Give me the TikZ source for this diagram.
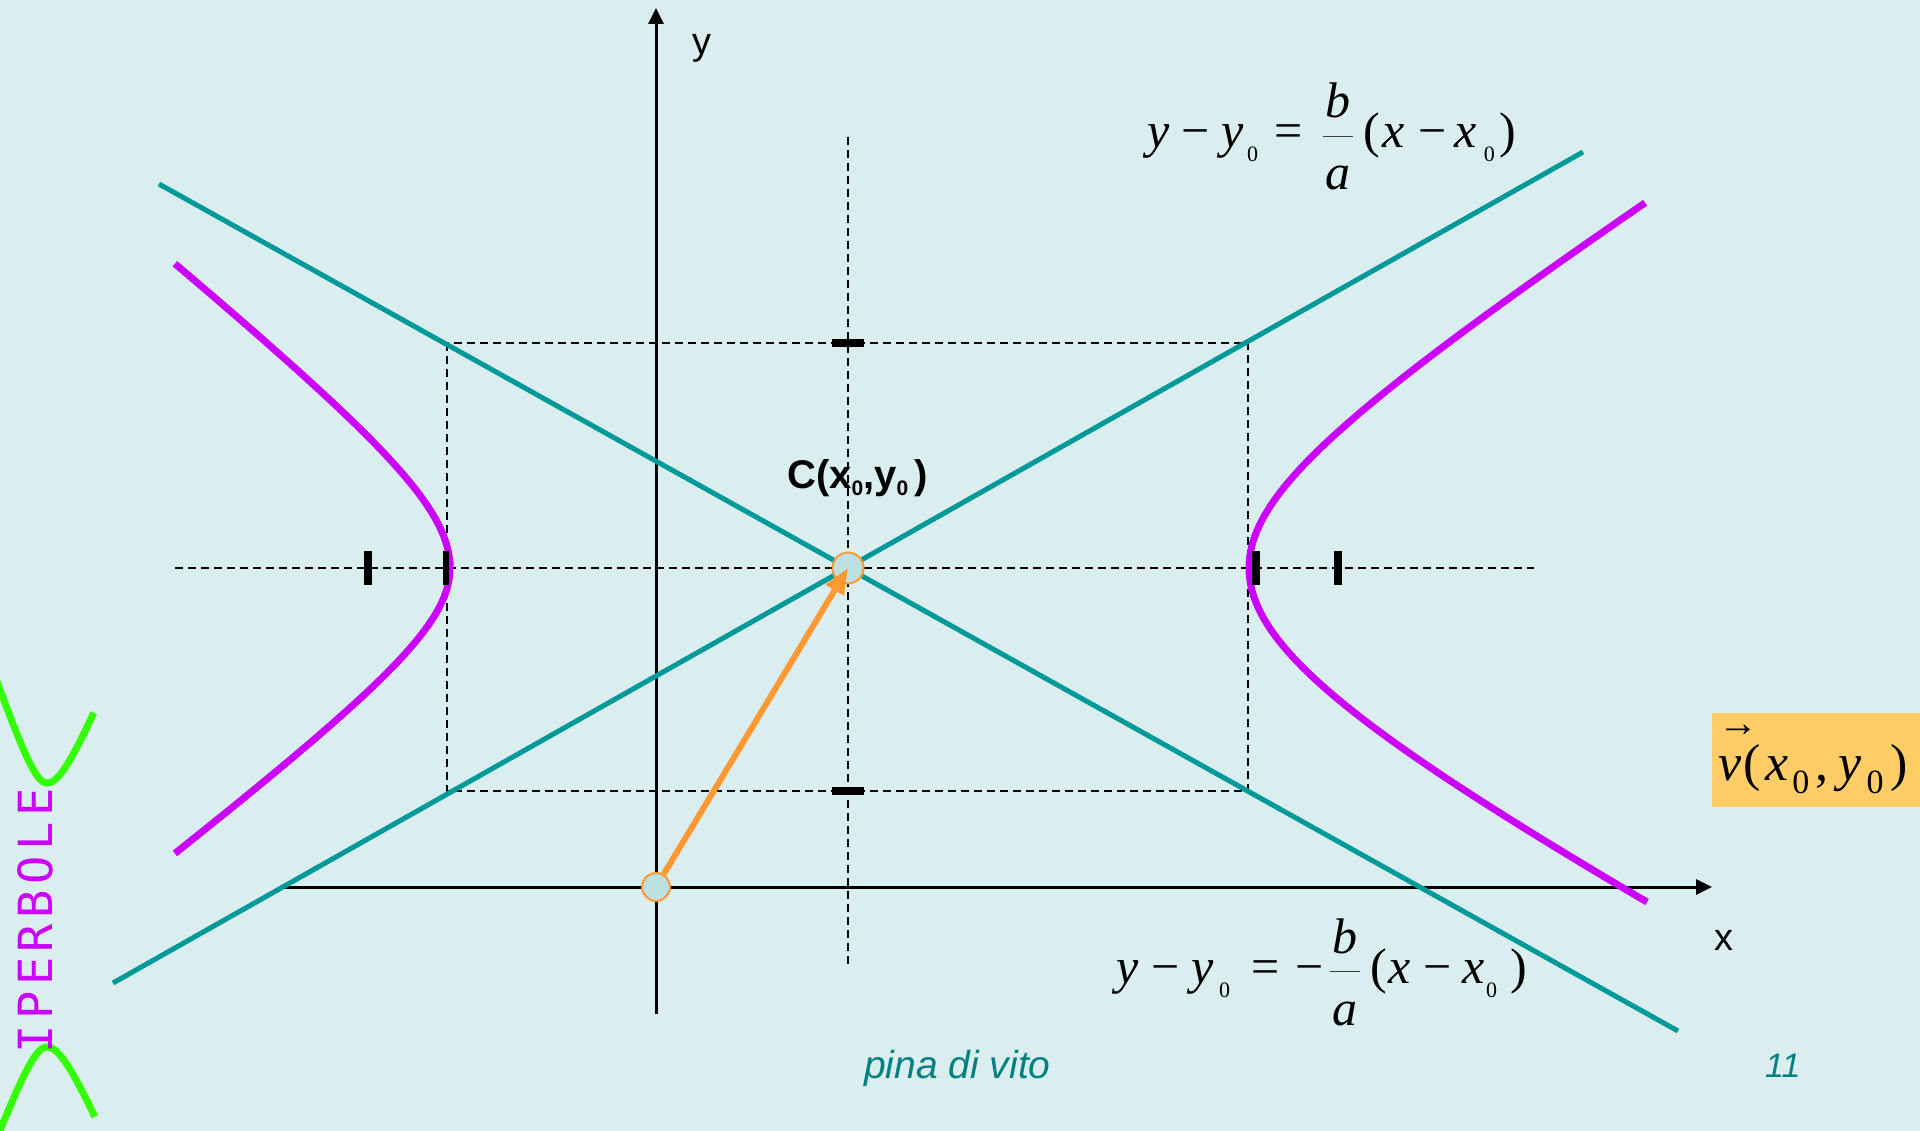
\documentclass[tikz,border=0pt]{standalone}
\usepackage{fontspec}
\setmainfont{Liberation Serif}
\newfontfamily\arialf{Liberation Sans}
\newfontfamily\monof[LetterSpace=12]{DejaVu Sans Mono}
\usetikzlibrary{arrows.meta}
\definecolor{bg}{HTML}{DAEEF0}
\definecolor{asy}{HTML}{009999}
\definecolor{hyp}{HTML}{CC00FF}
\definecolor{grn}{HTML}{33FF00}
\definecolor{org}{HTML}{FF9933}
\definecolor{boxc}{HTML}{FFCC66}
\definecolor{cfill}{HTML}{BDE0E3}
\definecolor{tealtxt}{HTML}{008080}
\newcommand\sbz[1]{\raisebox{-14pt}{\fontsize{22}{22}\selectfont #1}}
\newcommand\vsb[1]{\raisebox{-13pt}{\fontsize{34}{34}\selectfont #1}}
\newcommand\csb[1]{\raisebox{-7pt}{\fontsize{21}{21}\selectfont #1}}
\newcommand\ffrac[2]{\hbox to 30pt{\rlap{\hbox to 30pt{\hss\raisebox{30pt}{#1}\hss}}\rlap{\raisebox{11pt}{\color{darkgray}\rule{30pt}{1.3pt}}}\hss\raisebox{-42pt}{#2}\hss}}
\begin{document}
\begin{tikzpicture}[x=1pt,y=-1pt,
  dashline/.style={black,line width=2pt,dash pattern=on 8pt off 5pt},
  axisline/.style={black,line width=3pt,-{Triangle[length=16pt,width=15pt]}},
  asym/.style={asy,line width=5pt},
  hypc/.style={hyp,line width=7pt},
  grc/.style={grn,line width=7pt},
  tickbar/.style={fill=black},
  dot/.style={circle,draw=org,fill=cfill,line width=2pt,inner sep=0pt},
  vecarrow/.style={org,line width=6pt,-{Triangle[length=26pt,width=20pt]}},
  eqtext/.style={inner sep=0pt,anchor=base west,font=\fontsize{50}{60}\selectfont},
  lbl/.style={inner sep=0pt,anchor=base west}]
\useasboundingbox (0,0) rectangle (1920,1131);
\fill[bg] (0,0) rectangle (1920,1131);
% dashed guide lines
\draw[dashline] (848,137) -- (848,965);
\draw[dashline] (175,568) -- (1534,568);
\draw[dashline] (447,343) rectangle (1248,791);
% axes
\coordinate (xs) at (284,887);
\coordinate (xe) at (1712,887);
\coordinate (ys) at (656,1014);
\coordinate (ye) at (656,8);
\draw[axisline] (xs) -- (xe);
\draw[axisline] (ys) -- (ye);
% asymptotes
\coordinate (a1s) at (159,184);
\coordinate (a1e) at (1678,1031);
\coordinate (a2s) at (113,983);
\coordinate (a2e) at (1583,152);
\draw[asym] (a1s) -- (a1e);
\draw[asym] (a2s) -- (a2e);
% hyperbola
\draw[hypc] plot[variable=\t,domain=1.861:0,samples=50,smooth] ({450-120*(cosh(\t)-1)},{568-97*sinh(\t)})
  -- plot[variable=\t,domain=0:1.861,samples=50,smooth] ({450-120*(cosh(\t)-1)},{568+91*sinh(\t)});
\draw[hypc] plot[variable=\t,domain=1.742:0,samples=50,smooth] ({1249+204*(cosh(\t)-1)},{568-132*sinh(\t)})
  -- plot[variable=\t,domain=0:1.488,samples=50,smooth] ({1249+300*(cosh(\t)-1)},{568+159*sinh(\t)});
% ticks
\fill[tickbar] (364,551) rectangle (372,585);
\fill[tickbar] (443,551) rectangle (449,585);
\fill[tickbar] (1252,551) rectangle (1260,585);
\fill[tickbar] (1334,551) rectangle (1342,585);
\fill[tickbar] (832,339) rectangle (864,347);
\fill[tickbar] (832,787) rectangle (864,795);
% centre and origin
\node[dot,minimum size=31pt] (C) at (848,568) {};
\node[dot,minimum size=28pt] (O) at (656,887) {};
\draw[vecarrow] (O) -- (C.center);
% labels
\node[lbl,font=\arialf\fontsize{38}{40}\selectfont] (ylab) at (692,55) {y};
\node[lbl,font=\arialf\fontsize{38}{40}\selectfont] (xlab) at (1714,950) {x};
\node[lbl,font=\arialf\bfseries\fontsize{40}{44}\selectfont] (clab) at (787,488) {C(x\csb{0},y\csb{0}\kern6pt)};
\node[eqtext] (eq1) at (1147,148) {\textit{y}\kern12.3pt−\kern11.3pt\textit{y}\kern3.8pt\sbz{0}\kern16.4pt=\kern20.4pt\ffrac{\textit{b}}{\textit{a}}\kern10pt(\kern3pt\textit{x}\kern13.3pt−\kern8.3pt\textit{x}\kern6.8pt\sbz{0}\kern5pt)};
\node[eqtext] (eq2) at (1116,983) {\textit{y}\kern13.3pt−\kern11.3pt\textit{y}\kern5.8pt\sbz{0}\kern21.5pt=\kern15.8pt−\kern6.3pt\ffrac{\textit{b}}{\textit{a}}\kern10pt(\kern1.3pt\textit{x}\kern13.3pt−\kern10.3pt\textit{x}\kern1.8pt\sbz{0}\kern13pt)};
% vector box
\node[fill=boxc,inner sep=0pt,minimum width=208pt,minimum height=94pt,anchor=north west] (vbox) at (1712,713) {};
\node[eqtext,font=\fontsize{52}{60}\selectfont] (vtext) at (1718,780) {\rlap{\raisebox{44pt}{\fontsize{40}{40}\selectfont →}}\textit{v}\kern2pt(\kern4.7pt\textit{x}\kern4pt\vsb{0}\kern6pt,\kern10pt\textit{y}\kern5pt\vsb{0}\kern7pt)};
% footer
\node[lbl,font=\arialf\itshape\fontsize{39}{44}\selectfont,text=tealtxt] (author) at (864,1078) {pina di vito};
\node[lbl,font=\arialf\itshape\fontsize{34}{40}\selectfont,text=tealtxt] (pnum) at (1765,1077) {11};
% side decoration
\begin{scope}
\clip (0,0) rectangle (1920,1131);
\draw[grc] plot[variable=\t,domain=-2.2:0,samples=40,smooth] ({47+18*sinh(\t)},{783-52*(cosh(\t)-1)})
  -- plot[variable=\t,domain=0:1.5,samples=40,smooth] ({47+22*sinh(\t)},{783-52*(cosh(\t)-1)});
\draw[grc] plot[variable=\t,domain=-2.2:0,samples=40,smooth] ({47+19*sinh(\t)},{1047+50*(cosh(\t)-1)})
  -- plot[variable=\t,domain=0:1.52,samples=40,smooth] ({47+22*sinh(\t)},{1047+50*(cosh(\t)-1)});
\end{scope}
\node[lbl,rotate=90,font=\monof\fontsize{47}{50}\selectfont,text=hyp] (title) at (52,1054) {IPERBOLE};
\end{tikzpicture}
\end{document}
